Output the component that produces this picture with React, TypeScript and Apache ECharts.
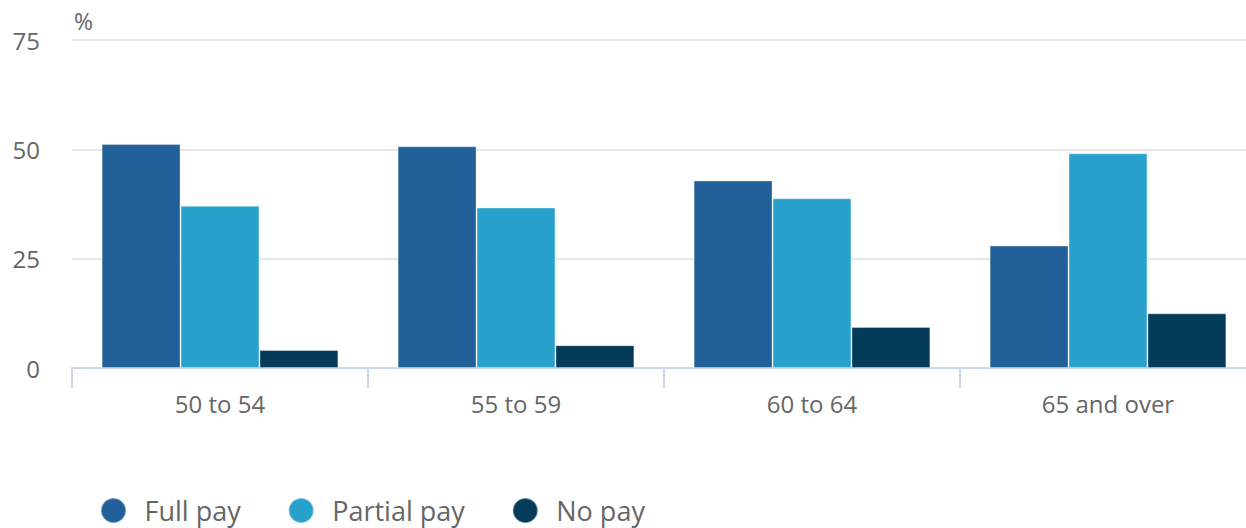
import React, { useEffect, useRef } from "react";
import * as echarts from "echarts";

const categories = ["50 to 54", "55 to 59", "60 to 64", "65 and over"];
const fullPay = [51.2, 50.7, 42.9, 28.0];
const partialPay = [37.1, 36.7, 38.8, 49.1];
const noPay = [4.1, 5.2, 9.4, 12.5];
const seriesNames = ["Full pay", "Partial pay", "No pay"];
const colors = ["#22609A", "#28A1CC", "#033B58"];
const yTicks = [0, 25, 50, 75];

export default function App() {
  const ref = useRef<HTMLDivElement>(null);
  useEffect(() => {
    if (!ref.current) return;
    const chart = echarts.init(ref.current, null, { renderer: "svg" });
    const font = "'Open Sans', sans-serif";
    const values = [fullPay, partialPay, noPay];
    chart.setOption({
      animation: false,
      color: colors,
      textStyle: { fontFamily: font },
      grid: { left: 72, right: 0, top: 40, bottom: 160, containLabel: false },
      legend: {
        left: 95,
        top: 492,
        icon: "circle",
        itemWidth: 52,
        itemHeight: 25,
        itemGap: 47,
        textStyle: { fontSize: 27, color: "#666666", fontFamily: font },
        data: seriesNames,
      },
      graphic: [
        {
          type: "text",
          left: 74,
          top: 9,
          style: { text: "%", fontSize: 23, fill: "#666666", fontFamily: font },
        },
      ],
      xAxis: {
        type: "category",
        data: categories,
        axisLine: { lineStyle: { color: "#ccd6eb", width: 2 } },
        axisTick: { show: true, length: 20, lineStyle: { color: "#ccd6eb", width: 2 } },
        axisLabel: { fontSize: 24, color: "#666666", margin: 23, fontFamily: font },
      },
      yAxis: {
        type: "value",
        min: yTicks[0],
        max: yTicks[yTicks.length - 1],
        interval: 25,
        axisLine: { show: false },
        axisTick: { show: false },
        splitLine: { lineStyle: { color: "#e6e6e6", width: 2 } },
        axisLabel: { fontSize: 24, color: "#666666", margin: 32, fontFamily: font },
      },
      series: seriesNames.map((name, i) => ({
        name,
        type: "bar",
        data: values[i],
        barGap: "0%",
        barCategoryGap: "20%",
        itemStyle: { color: colors[i], borderColor: "rgba(255,255,255,0.35)", borderWidth: 1 },
      })),
    });
    return () => chart.dispose();
  }, []);
  return (
    <div style={{ position: "fixed", left: 0, top: 0, width: 1246, height: 528, overflow: "hidden", background: "#fff" }}>
      <div ref={ref} style={{ position: "absolute", left: 0, top: 0, width: 1256, height: 528 }} />
    </div>
  );
}
